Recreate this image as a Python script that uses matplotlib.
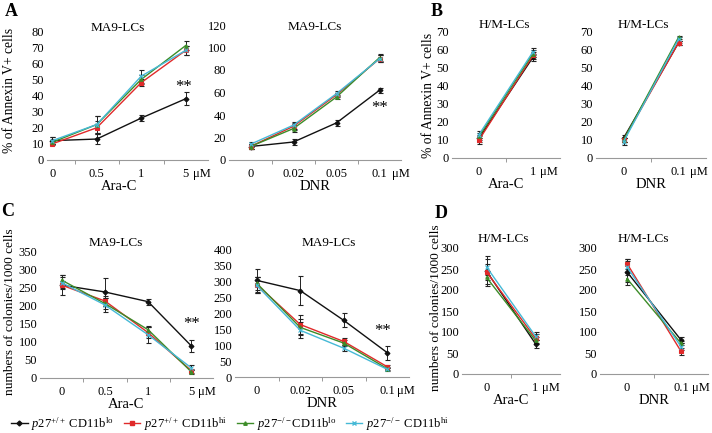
import matplotlib
matplotlib.use("Agg")
import matplotlib.pyplot as plt
import matplotlib.transforms as mtransforms
from matplotlib.lines import Line2D
import numpy as np

plt.rcParams['font.family'] = ['Liberation Serif', 'DejaVu Serif']
plt.rcParams['mathtext.fontset'] = 'custom'
plt.rcParams['mathtext.rm'] = 'Liberation Serif'
plt.rcParams['mathtext.it'] = 'Liberation Serif:italic'

# ---- data ----
groups = ["p27+/+ CD11b lo", "p27+/+ CD11b hi", "p27-/- CD11b lo", "p27-/- CD11b hi"]
legend_labels = [r"$p27^{+/+}$ CD11b$^{\mathrm{lo}}$", r"$p27^{+/+}$ CD11b$^{\mathrm{hi}}$",
                 r"$p27^{-/-}$CD11b$^{\mathrm{lo}}$", r"$p27^{-/-}$ CD11b$^{\mathrm{hi}}$"]

araC_doses = ["0", "0.5", "1", "5"]
dnr_doses = ["0", "0.02", "0.05", "0.1"]
hm_araC_doses = ["0", "1"]
hm_dnr_doses = ["0", "0.1"]

# A: % Annexin V+ (MA9-LCs)
a_arac = [[12, 13, 26, 38], [10, 20, 48, 68], [11, 22, 50, 71], [12, 22, 52, 68]]
a_arac_err = [[2, 3, 2, 4], [1, 4, 2, 3], [1, 5, 3, 3], [2, 5, 4, 3]]
a_dnr = [[12, 16, 33, 62], [12, 30, 58, 90], [12, 28, 56, 91], [14, 31, 59, 90]]
a_dnr_err = [[2, 3, 3, 2], [2, 3, 2, 3], [2, 3, 2, 3], [2, 3, 2, 3]]

# B: % Annexin V+ (H/M-LCs)
b_arac = [[11, 56], [10, 57], [12, 58], [13, 59]]
b_arac_err = [[2, 2], [2, 2], [2, 2], [2, 2]]
b_dnr = [[11, 64], [10, 64], [10, 67], [9, 66]]
b_dnr_err = [[2, 1], [1, 1], [1, 1], [2, 1]]

# C: colonies (MA9-LCs)
c_arac = [[258, 239, 212, 89], [258, 214, 126, 20], [272, 207, 134, 17], [265, 203, 120, 28]]
c_arac_err = [[28, 38, 8, 16], [12, 15, 15, 6], [15, 15, 10, 6], [15, 20, 22, 7]]
c_dnr = [[302, 270, 177, 76], [289, 164, 111, 32], [293, 155, 106, 26], [286, 146, 90, 24]]
c_dnr_err = [[37, 45, 22, 22], [25, 30, 10, 5], [20, 25, 10, 5], [25, 25, 10, 5]]

# D: colonies (H/M-LCs)
d_arac = [[245, 72], [243, 85], [230, 80], [255, 90]]
d_arac_err = [[35, 10], [20, 10], [15, 8], [20, 10]]
d_dnr = [[243, 81], [263, 54], [227, 73], [255, 65]]
d_dnr_err = [[30, 8], [12, 8], [8, 5], [15, 8]]

colors = ["#111111", "#e02a2a", "#3c8c28", "#45b9d6"]
markers = ["D", "s", "^", "x"]

W, H = 712, 433
fig = plt.figure(figsize=(W / 100, H / 100), dpi=100)


def add_ax(l, t, r, b):
    return fig.add_axes([l / W, 1 - b / H, (r - l) / W, (b - t) / H])


def ftext(px, py, s, **kw):
    fig.text(px / W, 1 - py / H, s, ha="center", va="center", **kw)


def panel(ax, doses, vals, errs, ymax, ystep, xlabel, star=None, um_off=8, yaxis_x=None):
    x = np.arange(len(doses))
    for v, e, c, m in zip(vals, errs, colors, markers):
        ax.errorbar(x, v, yerr=e, color=c, marker=m, ms=2.5, mew=0.8, lw=1,
                    ecolor="#222222", elinewidth=0.7, capsize=1.8, capthick=0.7)
    ax.set_xlim(-0.5, len(doses) - 0.5)
    ax.set_ylim(0, ymax)
    ax.set_yticks(np.arange(0, ymax + 1, ystep))
    ax.set_xticks(x)
    ax.set_xticklabels(doses)
    ax.set_xticks(x[:-1] + 0.5, minor=True)
    ax.tick_params(axis="x", which="major", length=0, pad=6, labelsize=9)
    ax.tick_params(axis="x", which="minor", length=3, color="#999999", width=0.7)
    ax.tick_params(axis="y", length=0, pad=2, labelsize=9)
    for s in ["top", "right", "left"]:
        ax.spines[s].set_visible(False)
    if yaxis_x is not None:
        # vertical axis sits just left of the first category here
        ax.spines["left"].set_position(("data", yaxis_x))
        ax.spines["bottom"].set_bounds(yaxis_x, len(doses) - 0.5)
    ax.spines["bottom"].set_color("#999999")
    ax.spines["bottom"].set_linewidth(0.8)
    ax.set_xlabel(xlabel, fontsize=10.5, labelpad=0)
    trans = mtransforms.blended_transform_factory(ax.transData, ax.transAxes)
    ax.annotate("\u03bcM", xy=(x[-1], 0), xycoords=trans, xytext=(um_off, -6),
                textcoords="offset points", ha="left", va="top", fontsize=9)
    if star is not None:
        ax.text(star[0], star[1], "**", ha="center", va="center", fontsize=12)


ax = add_ax(30, 31, 208, 160)
panel(ax, araC_doses, a_arac, a_arac_err, 80, 10, "Ara-C",
      star=(2.95, 45), um_off=5, yaxis_x=-0.12)
ax = add_ax(229, 25, 401, 160)
panel(ax, dnr_doses, a_dnr, a_dnr_err, 120, 20, "DNR", star=(3.0, 46), um_off=9)
ax = add_ax(452, 32, 560, 158)
panel(ax, hm_araC_doses, b_arac, b_arac_err, 70, 10, "Ara-C", um_off=5)
ax = add_ax(596, 32, 706, 158)
panel(ax, hm_dnr_doses, b_dnr, b_dnr_err, 70, 10, "DNR", um_off=8)

ax = add_ax(40, 252, 213, 378)
panel(ax, araC_doses, c_arac, c_arac_err, 350, 50, "Ara-C", star=(3.0, 150), um_off=5)
ax = add_ax(235, 249, 409, 377)
panel(ax, dnr_doses, c_dnr, c_dnr_err, 400, 50, "DNR", star=(2.9, 145), um_off=7)
ax = add_ax(462, 248, 560, 374)
panel(ax, hm_araC_doses, d_arac, d_arac_err, 300, 50, "Ara-C", um_off=5)
ax = add_ax(600, 248, 708, 374)
panel(ax, hm_dnr_doses, d_dnr, d_dnr_err, 300, 50, "DNR", um_off=8)

# panel titles
for s, px, py in [("MA9-LCs", 118, 28), ("MA9-LCs", 315, 27), ("H/M-LCs", 504, 25),
                  ("H/M-LCs", 643, 25), ("MA9-LCs", 116, 243), ("MA9-LCs", 329, 243),
                  ("H/M-LCs", 503, 239), ("H/M-LCs", 643, 239)]:
    ftext(px, py, s, fontsize=9.5)

# y-axis labels
ftext(10, 90, "% of Annexin V+ cells", fontsize=9.8, rotation=90)
ftext(428, 95, "% of Annexin V+ cells", fontsize=9.8, rotation=90)
ftext(10, 312, "numbers of colonies/1000 cells", fontsize=9.6, rotation=90)
ftext(436, 308, "numbers of colonies/1000 cells", fontsize=9.6, rotation=90)

for letter, px, py in [("A", 11, 12), ("B", 437, 11), ("C", 8, 212), ("D", 441, 214)]:
    ftext(px, py, letter, fontsize=13, fontweight="bold")

handles = [Line2D([0], [0], color=c, marker=m, ms=2.5, lw=1) for c, m in zip(colors, markers)]
fig.legend(handles, legend_labels, loc="lower left", bbox_to_anchor=(0.0, -0.025),
           ncol=4, frameon=False, fontsize=9, handlelength=1.3, handletextpad=0.3,
           columnspacing=0.8)

fig.savefig("out.png", dpi=100)
